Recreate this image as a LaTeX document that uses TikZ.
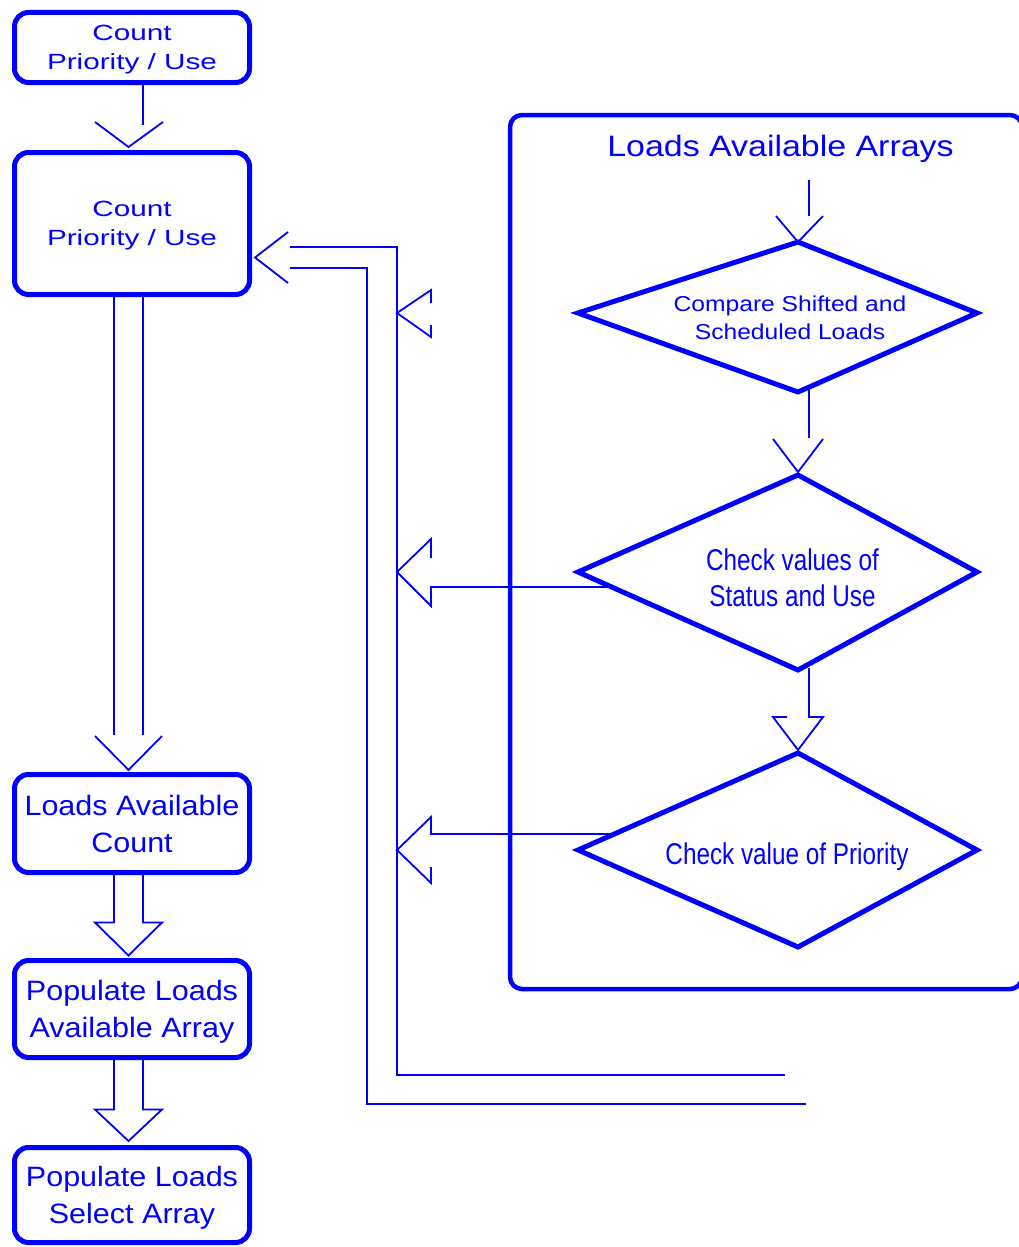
\documentclass[tikz,border=0pt]{standalone}
\usepackage{fontspec}
\setmainfont{Liberation Sans}
\newfontfamily\fA[FakeStretch=1.35]{Liberation Sans}
\newfontfamily\fB[FakeStretch=1.09]{Liberation Sans}
\newfontfamily\fT[FakeStretch=1.15]{Liberation Sans}
\newfontfamily\fD[FakeStretch=1.14]{Liberation Sans}
\newfontfamily\fN[FakeStretch=0.81]{Liberation Sans}
\usetikzlibrary{calc}
\definecolor{fc}{RGB}{0,0,255}
\begin{document}
\begin{tikzpicture}[x=1pt,y=-1pt,
  box/.style={draw=fc, text=fc, line width=5pt, rounded corners=14pt, minimum width=235pt,
              inner sep=0pt, align=center, text depth=0pt},
  lbl/.style={text=fc, align=center, inner sep=0pt, text depth=0pt},
  ln/.style={draw=fc, line width=1.8pt, line join=miter},
  dia/.style={draw=fc, line width=5pt, line join=miter},
  cont/.style={draw=fc, line width=4.5pt, rounded corners=12pt, minimum width=512pt, minimum height=874pt, inner sep=0pt},
  fa/.style={font=\fA\fontsize{22}{29}\selectfont},
  fb/.style={font=\fB\fontsize{28}{37}\selectfont}
]
\useasboundingbox (0,0) rectangle (1018,1247);

% left column boxes
\node[box, fa, minimum height=70pt]  (b1) at (132,47.5)  {Count\\Priority / Use};
\node[box, fa, minimum height=142pt] (b2) at (132,223.5) {Count\\Priority / Use};
\node[box, fb, minimum height=98pt]  (b3) at (132,823.5) {Loads Available\\Count};
\node[box, fb, minimum height=97pt]  (b4) at (132,1009)  {Populate Loads\\Available Array};
\node[box, fb, minimum height=95pt]  (b5) at (132,1195)  {Populate Loads\\Select Array};

% title of container
\node[lbl, font=\fT\fontsize{29.5}{35}\selectfont] (title) at (780.5,146) {Loads Available Arrays};

% diamonds (asymmetric), named corner coordinates
\coordinate (d1n) at (798,242); \coordinate (d1w) at (578,313);
\coordinate (d1e) at (977,313); \coordinate (d1s) at (798,392);
\coordinate (d2n) at (798,475); \coordinate (d2w) at (578,572);
\coordinate (d2e) at (977,572); \coordinate (d2s) at (798,670);
\coordinate (d3n) at (798,753); \coordinate (d3w) at (578,850);
\coordinate (d3e) at (977,850); \coordinate (d3s) at (798,947);
\draw[dia] (d1n) -- (d1e) -- (d1s) -- (d1w) -- cycle;
\draw[dia] (d2n) -- (d2e) -- (d2s) -- (d2w) -- cycle;
\draw[dia] (d3n) -- (d3e) -- (d3s) -- (d3w) -- cycle;
\node[lbl, font=\fD\fontsize{21.6}{28}\selectfont] (d1t) at (790,317.5) {Compare Shifted and\\Scheduled Loads};
\node[lbl, font=\fN\fontsize{30}{36}\selectfont] (d2t) at (792.5,578) {Check values of\\Status and Use};
\node[lbl, font=\fN\fontsize{30}{36}\selectfont] (d3t) at (787,854) {Check value of Priority};

% left column connectors
\draw[ln] ($(b1.south)+(11,0)$) -- ($(b1.south)+(11,40)$);
\draw[ln] ($(b2.north)+(-37,-28)$) -- ($(b2.north)+(-3.5,-3)$) -- ($(b2.north)+(31,-28)$);

\draw[ln] ($(b2.south)+(-18,0)$) -- ($(b3.north)+(-18,-37)$);
\draw[ln] ($(b2.south)+(11,0)$) -- ($(b3.north)+(11,-37)$);
\draw[ln] ($(b3.north)+(-37,-36)$) -- ($(b3.north)+(-3.5,-2)$) -- ($(b3.north)+(30,-36)$);

\draw[ln] ($(b3.south)+(-18,0)$) -- ($(b4.north)+(-18,-35.5)$) -- ($(b4.north)+(-37,-35.5)$)
   -- ($(b4.north)+(-3.5,-2.5)$) -- ($(b4.north)+(30,-35.5)$) -- ($(b4.north)+(11,-35.5)$) -- ($(b3.south)+(11,0)$);
\draw[ln] ($(b4.south)+(-18,0)$) -- ($(b5.north)+(-18,-35.5)$) -- ($(b5.north)+(-37,-35.5)$)
   -- ($(b5.north)+(-3.5,-4)$) -- ($(b5.north)+(30,-35.5)$) -- ($(b5.north)+(11,-35.5)$) -- ($(b4.south)+(11,0)$);

% right column connectors
\draw[ln] ($(title.south)+(28.5,23)$) -- ($(d1n)+(11,-26)$);
\draw[ln] ($(d1n)+(-22,-26)$) -- (d1n) -- ($(d1n)+(25,-26)$);
\draw[ln] ($(d1s)+(11,-2)$) -- ($(d2n)+(11,-37)$);
\draw[ln] ($(d2n)+(-25,-36)$) -- ($(d2n)+(0,-3)$) -- ($(d2n)+(25,-36)$);
\draw[ln] ($(d2s)+(11,-2)$) -- ($(d3n)+(11,-36)$) -- ($(d3n)+(25,-36)$) -- ($(d3n)+(0,-3)$)
   -- ($(d3n)+(-25,-36)$) -- ($(d3n)+(-11,-36)$);

% return double line into b2
\coordinate (e1) at (785,1075);
\coordinate (e2) at (806,1104);
\coordinate (vl) at (397,0);
\coordinate (vi) at (367,0);
\coordinate (sh) at (431,0);
\coordinate (r1) at ($(b2.east)+(37.5,23.5)$);
\coordinate (r2) at ($(b2.east)+(37.5,44.5)$);
\draw[ln] (e1) -- (e1 -| vl) -- (r1 -| vl) -- (r1);
\draw[ln] (e2) -- (e2 -| vi) -- (r2 -| vi) -- (r2);
\draw[ln] ($(b2.east)+(36,8.5)$) -- ($(b2.east)+(3,34)$) -- ($(b2.east)+(36,59.5)$);

% left-pointing heads from diamonds
\coordinate (t1) at (d1w -| vl);
\coordinate (t2) at (d2w -| vl);
\coordinate (t3) at (d3w -| vl);
\coordinate (s2) at ($(d2w)!0.153!(d2s)$);
\coordinate (s3) at ($(d3w)!0.165!(d3n)$);
\draw[ln] ($(t1)+(34,-10)$) -- ($(t1)+(34,-23)$) -- (t1) -- ($(t1)+(34,24)$) -- ($(t1)+(34,12)$);
\draw[ln] (s2) -- (s2 -| sh) -- ($(t2)+(34,34)$) -- (t2) -- ($(t2)+(34,-33)$) -- ($(t2)+(34,-14)$);
\draw[ln] (s3) -- (s3 -| sh) -- ($(t3)+(34,-33)$) -- (t3) -- ($(t3)+(34,33)$) -- ($(t3)+(34,17)$);

% container (right edge runs just past the page edge, as in the reference)
\node[cont] (c) at (766,552) {};
\end{tikzpicture}
\end{document}
